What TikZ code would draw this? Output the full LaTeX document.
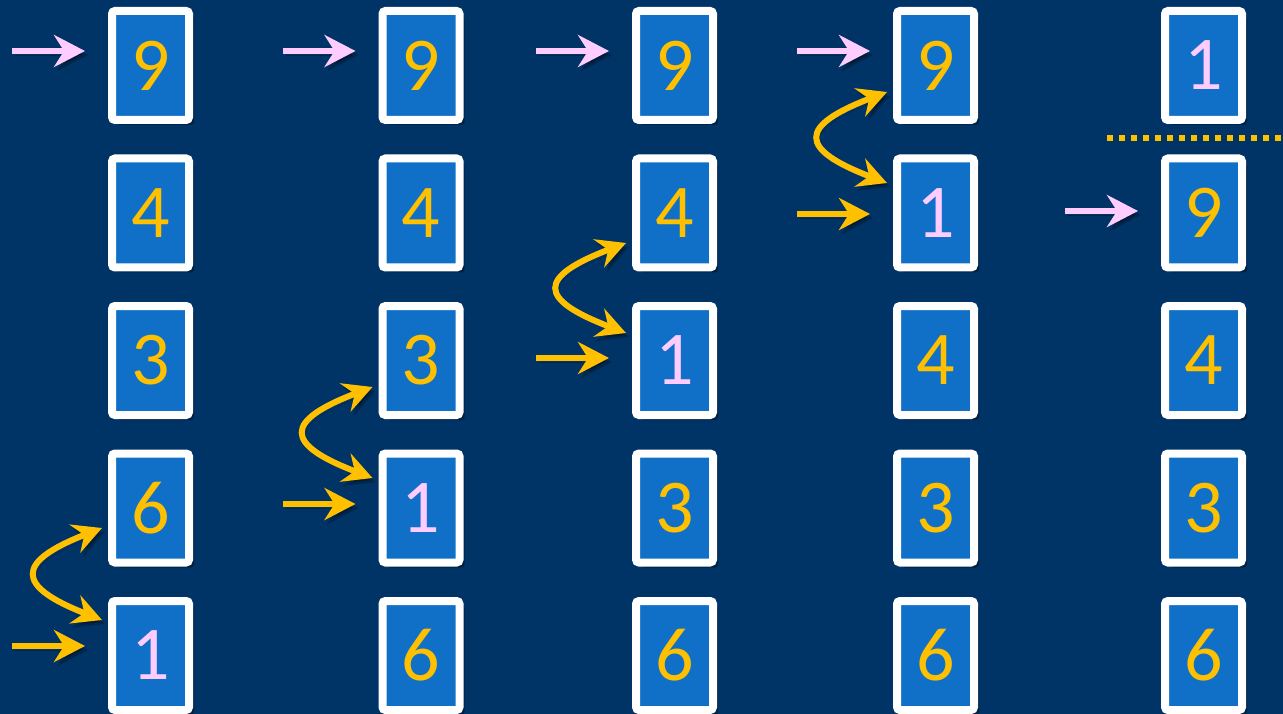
\documentclass[tikz,border=0pt]{standalone}
\usepackage{fontspec}
\setmainfont{Carlito}
\usetikzlibrary{arrows.meta,shadows}
\definecolor{bg}{RGB}{0,51,102}
\definecolor{cardblue}{RGB}{16,112,200}
\definecolor{gold}{RGB}{255,192,0}
\definecolor{pinkish}{RGB}{255,204,255}
\begin{document}
\begin{tikzpicture}[x=1pt,y=-1pt,
  card/.style={draw=white, line width=8pt, fill=cardblue, rounded corners=3pt,
    minimum width=77pt, minimum height=109pt, inner sep=0pt,
    font=\fontsize{76}{76}\selectfont, text=gold,
    drop shadow={shadow xshift=5pt, shadow yshift=-5pt, opacity=0.35, fill=black}},
  one/.style={text=pinkish},
  shade/.style={preaction={draw=black, opacity=0.25, transform canvas={xshift=3pt,yshift=-4pt}}},
  arr/.style={shade, line width=6.5pt, -{Stealth[length=31pt,width=32pt,inset=10pt]}},
  darr/.style={shade, line width=6pt, draw=gold,
    {Stealth[length=29pt,width=30pt,inset=10pt]}-{Stealth[length=29pt,width=30pt,inset=10pt]}},
  dots/.style={draw=gold, line width=6pt, dash pattern=on 6pt off 6pt}
]
\useasboundingbox (0,0) rectangle (1283,714);
\clip (0,0) rectangle (1283,714);
\fill[bg] (0,0) rectangle (1283,714);

% column 1
\node[card] (c11) at (150.5,65.5) {9};
\node[card] (c12) at (150.5,213) {4};
\node[card] (c13) at (150.5,360.5) {3};
\node[card] (c14) at (150.5,508) {6};
\node[card,one] (c15) at (150.5,655.5) {1};
% column 2
\node[card] (c21) at (421,65.5) {9};
\node[card] (c22) at (421,213) {4};
\node[card] (c23) at (421,360.5) {3};
\node[card,one] (c24) at (421,508) {1};
\node[card] (c25) at (421,655.5) {6};
% column 3
\node[card] (c31) at (674.5,65.5) {9};
\node[card] (c32) at (674.5,213) {4};
\node[card,one] (c33) at (674.5,360.5) {1};
\node[card] (c34) at (674.5,508) {3};
\node[card] (c35) at (674.5,655.5) {6};
% column 4
\node[card] (c41) at (935.5,65.5) {9};
\node[card,one] (c42) at (935.5,213) {1};
\node[card] (c43) at (935.5,360.5) {4};
\node[card] (c44) at (935.5,508) {3};
\node[card] (c45) at (935.5,655.5) {6};
% column 5
\node[card,one] (c51) at (1203.5,65.5) {1};
\node[card] (c52) at (1203.5,213) {9};
\node[card] (c53) at (1203.5,360.5) {4};
\node[card] (c54) at (1203.5,508) {3};
\node[card] (c55) at (1203.5,655.5) {6};

% straight arrows
\coordinate (p1) at (12,51);
\coordinate (g1) at (12,646);
\coordinate (p2) at (283,51);
\coordinate (g2) at (283,504);
\coordinate (p3) at (536,51);
\coordinate (g3) at (536,358);
\coordinate (p4) at (797,51);
\coordinate (g4) at (797,214);
\coordinate (p5) at (1065,211);
\draw[arr,pinkish] (p1) -- ([xshift=-23pt]p1 -| c11.west);
\draw[arr,gold] (g1) -- ([xshift=-23pt]g1 -| c15.west);
\draw[arr,pinkish] (p2) -- ([xshift=-23pt]p2 -| c21.west);
\draw[arr,gold] (g2) -- ([xshift=-23pt]g2 -| c24.west);
\draw[arr,pinkish] (p3) -- ([xshift=-23pt]p3 -| c31.west);
\draw[arr,gold] (g3) -- ([xshift=-23pt]g3 -| c33.west);
\draw[arr,pinkish] (p4) -- ([xshift=-23pt]p4 -| c41.west);
\draw[arr,gold] (g4) -- ([xshift=-23pt]g4 -| c42.west);
\draw[arr,pinkish] (p5) -- ([xshift=-23pt]p5 -| c52.west);

% swap arrows
\draw[darr] ([xshift=-6pt,yshift=-20pt]c14.west) .. controls +(-87,34) and +(-87,-34) .. ([xshift=-6pt,yshift=35.5pt]c15.west);
\draw[darr] ([xshift=-6pt,yshift=-26.5pt]c23.west) .. controls +(-89,34) and +(-89,-34) .. ([xshift=-6pt,yshift=30pt]c24.west);
\draw[darr] ([xshift=-6pt,yshift=-30pt]c32.west) .. controls +(-89,34) and +(-89,-34) .. ([xshift=-6pt,yshift=27.5pt]c33.west);
\draw[darr] ([xshift=-6pt,yshift=-26.5pt]c41.west) .. controls +(-89,34) and +(-89,-34) .. ([xshift=-6pt,yshift=30pt]c42.west);

% dotted separator
\coordinate (d0) at (1107,138);
\coordinate (d1) at (1283,138);
\draw[dots] (d0) -- (d1);
\end{tikzpicture}
\end{document}
